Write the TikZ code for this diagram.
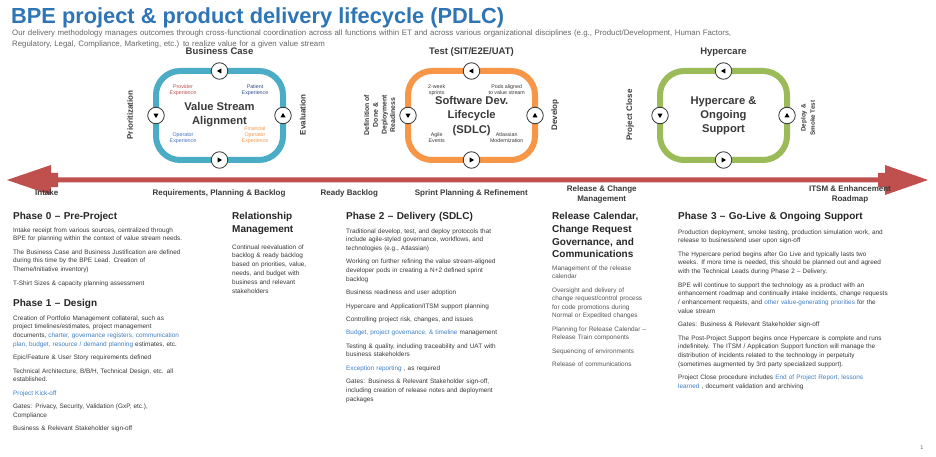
\documentclass[tikz,border=0pt]{standalone}
\usepackage{fontspec}
\setmainfont{Liberation Sans}
\definecolor{titleblue}{HTML}{2E75B6}
\definecolor{subg}{HTML}{666666}
\definecolor{txt}{HTML}{383838}
\definecolor{txtlight}{HTML}{555555}
\definecolor{headc}{HTML}{262626}
\definecolor{lblc}{HTML}{3A3A3A}
\definecolor{lnk}{HTML}{3F7FC4}
\definecolor{loopblue}{HTML}{4BACC6}
\definecolor{looporange}{HTML}{F79646}
\definecolor{loopgreen}{HTML}{9BBB59}
\definecolor{arrowred}{HTML}{C0504D}
\definecolor{patblue}{HTML}{2F4F8F}
\definecolor{opblue}{HTML}{4472C4}
\tikzset{
  loopbox/.style={rectangle, rounded corners=24pt, line width=6pt, minimum width=127pt, minimum height=89pt, inner sep=0pt, outer sep=0pt},
  circ/.style={circle, draw=black!80, fill=white, line width=0.8pt, minimum size=16.5pt, inner sep=0pt},
  tri/.style={fill=black},
  looplabel/.style={anchor=base, inner sep=0pt, font=\fontsize{9.5}{11}\selectfont\bfseries, text=lblc},
  sidelabel/.style={rotate=90, inner sep=0pt, align=center, font=\fontsize{8}{9}\selectfont\bfseries, text=lblc},
  centertext/.style={inner sep=0pt, align=center, font=\fontsize{11.2}{14.2}\selectfont\bfseries, text=lblc},
  tiny/.style={inner sep=0pt, align=center, font=\fontsize{5.3}{6.2}\selectfont},
  arrowlabel/.style={inner sep=0pt, align=center, font=\fontsize{8}{10}\selectfont\bfseries, text=lblc},
  head/.style={anchor=base west, inner sep=0pt, text width=#1, align=left, font=\fontsize{10}{12.7}\selectfont\bfseries, text=headc},
  body/.style={anchor=base west, inner sep=0pt, text width=#1, align=left, font=\fontsize{6.4}{8.8}\selectfont, text=txt},
}
\newcommand{\pg}{\\[4.5pt]}
\begin{document}
\begin{tikzpicture}[x=1pt,y=-1pt]
\path[use as bounding box] (0,0) rectangle (936,457);
\fill[white] (0,0) rectangle (936,457);

% title
\node[anchor=base west, inner sep=0pt, font=\fontsize{21.8}{26}\selectfont\bfseries, text=titleblue] (title) at (11,24) {BPE project \& product delivery lifecycle (PDLC)};
\node[anchor=base west, inner sep=0pt, text width=800pt, align=left, font=\fontsize{7.85}{11}\selectfont, text=subg] (subtitle) at (12,35.8) {Our delivery methodology manages outcomes through cross-functional coordination across all functions within ET and across various organizational disciplines (e.g., Product/Development, Human Factors,\\
Regulatory, Legal, Compliance, Marketing, etc.) to realize value for a given value stream};

% timeline arrow
\coordinate (aL) at (7,180);
\coordinate (aR) at (928,180);
\fill[arrowred] (aL) -- (51,165) -- (51,173) -- (58,173) -- (58,177.5) -- (878,177.5) -- (878,173) -- (885,173) -- (885,165) -- (aR) -- (885,195) -- (885,187) -- (878,187) -- (878,182.5) -- (58,182.5) -- (58,187) -- (51,187) -- (51,195) -- cycle;

% loops
\node[loopbox, draw=loopblue] (L1) at (219.5,115.5) {};
\node[loopbox, draw=looporange] (L2) at (471.5,115.5) {};
\node[loopbox, draw=loopgreen] (L3) at (723.5,115.5) {};

\foreach \L in {L1,L2,L3}{
  \node[circ] (\L t) at (\L.north) {};
  \node[circ] (\L b) at (\L.south) {};
  \node[circ] (\L l) at (\L.west) {};
  \node[circ] (\L r) at (\L.east) {};
  \fill[tri, shift={(\L t)}, rotate=180] (2.6,0) -- (-1.8,-2.5) -- (-1.8,2.5) -- cycle;
  \fill[tri, shift={(\L b)}, rotate=0] (2.6,0) -- (-1.8,-2.5) -- (-1.8,2.5) -- cycle;
  \fill[tri, shift={(\L l)}, rotate=-90] (2.6,0) -- (-1.8,-2.5) -- (-1.8,2.5) -- cycle;
  \fill[tri, shift={(\L r)}, rotate=90] (2.6,0) -- (-1.8,-2.5) -- (-1.8,2.5) -- cycle;
}

% loop titles
\node[looplabel] (bc) at (219.5,54.5) {Business Case};
\node[looplabel] (tst) at (471.5,54.5) {Test (SIT/E2E/UAT)};
\node[looplabel] (hc) at (723.5,54.5) {Hypercare};

% side labels
\node[sidelabel] (prio) at (130,115) {Prioritization};
\node[sidelabel] (eval) at (302.7,115) {Evaluation};
\node[sidelabel, font=\fontsize{6.9}{8.7}\selectfont\bfseries] (dod) at (379.7,115) {Definition of\\Done \&\\Deployment\\Readiness};
\node[sidelabel] (dev) at (555,115) {Develop};
\node[sidelabel] (pclose) at (630,115) {Project Close};
\node[sidelabel, font=\fontsize{6.3}{9.4}\selectfont\bfseries] (deploy) at (808,118) {Deploy \&\\Smoke Test};

% centre texts
\node[centertext] (c1) at (219.5,115) {Value Stream\\Alignment};
\node[centertext] (c2) at (471.7,116) {Software Dev.\\Lifecycle\\(SDLC)};
\node[centertext] (c3) at (723.5,116) {Hypercare \&\\Ongoing\\Support};

% small labels loop 1
\node[tiny, text=arrowred] (prov) at (183,90) {Provider\\Experience};
\node[tiny, text=patblue] (pat) at (255,90) {Patient\\Experience};
\node[tiny, text=opblue] (oper) at (183,138) {Operator\\Experience};
\node[tiny, text=looporange] (fin) at (255,135) {Financial\\Operator\\Experience};
% small labels loop 2
\node[tiny, text=txt] (sprint) at (436.7,90) {2-week\\sprints};
\node[tiny, text=txt] (pods) at (506.7,90) {Pods aligned\\to value stream};
\node[tiny, text=txt] (agile) at (436.7,138) {Agile\\Events};
\node[tiny, text=txt] (atl) at (506.7,138) {Atlassian\\Modernization};

% arrow labels
\node[arrowlabel, anchor=base] (intake) at (46.7,196) {Intake};
\node[arrowlabel, anchor=base] (req) at (219,196) {Requirements, Planning \& Backlog};
\node[arrowlabel, anchor=base] (ready) at (349.3,196) {Ready Backlog};
\node[arrowlabel, anchor=base] (sprp) at (471.3,196) {Sprint Planning \& Refinement};
\node[arrowlabel] (rel) at (601.7,194.3) {Release \& Change\\Management};
\node[arrowlabel] (itsm) at (850,194.3) {ITSM \& Enhancement\\Roadmap};

% column 1
\node[head=215pt] (h0) at (13,219.6) {Phase 0 – Pre-Project};
\node[body=215pt] (b0) at (13,232) {Intake receipt from various sources, centralized through\\
BPE for planning within the context of value stream needs.\pg
The Business Case and Business Justification are defined\\
during this time by the BPE Lead. Creation of\\
Theme/Initiative inventory)\pg
T-Shirt Sizes \& capacity planning assessment};
\node[head=215pt] (h1) at (13,306.6) {Phase 1 – Design};
\node[body=215pt] (b1) at (13,320) {Creation of Portfolio Management collateral, such as\\
project timelines/estimates, project management\\
documents, {\color{lnk}charter, governance registers, communication}\\
{\color{lnk}plan, budget, resource / demand planning} estimates, etc.\pg
Epic/Feature \& User Story requirements defined\pg
Technical Architecture, B/B/H, Technical Design, etc. all\\
established.\pg
{\color{lnk}Project Kick-off}\pg
Gates: Privacy, Security, Validation (GxP, etc.),\\
Compliance\pg
Business \& Relevant Stakeholder sign-off};

% column 2
\node[head=112pt] (hrm) at (232,219.6) {Relationship\\Management};
\node[body=112pt] (brm) at (232,249) {Continual reevaluation of\\
backlog \& ready backlog\\
based on priorities, value,\\
needs, and budget with\\
business and relevant\\
stakeholders};

% column 3
\node[head=210pt] (h2) at (346,219.6) {Phase 2 – Delivery (SDLC)};
\node[body=210pt] (b2) at (346,233) {Traditional develop, test, and deploy protocols that\\
include agile-styled governance, workflows, and\\
technologies (e.g., Atlassian)\pg
Working on further refining the value stream-aligned\\
developer pods in creating a N+2 defined sprint\\
backlog\pg
Business readiness and user adoption\pg
Hypercare and Application/ITSM support planning\pg
Controlling project risk, changes, and issues\pg
{\color{lnk}Budget, project governance, \& timeline} management\pg
Testing \& quality, including traceability and UAT with\\
business stakeholders\pg
{\color{lnk}Exception reporting} , as required\pg
Gates: Business \& Relevant Stakeholder sign-off,\\
including creation of release notes and deployment\\
packages};

% column 4
\node[head=124pt] (hrc) at (552,219.6) {Release Calendar,\\Change Request\\Governance, and\\Communications};
\node[body=124pt, text=txtlight, font=\fontsize{6.4}{8.5}\selectfont] (brc) at (552,270) {Management of the release\\
calendar\\[5pt]
Oversight and delivery of\\
change request/control process\\
for code promotions during\\
Normal or Expedited changes\\[5pt]
Planning for Release Calendar –\\
Release Train components\\[5pt]
Sequencing of environments\\[5pt]
Release of communications};

% column 5
\node[head=255pt] (h3) at (678,219.6) {Phase 3 – Go-Live \& Ongoing Support};
\node[body=255pt] (b3) at (678,234) {Production deployment, smoke testing, production simulation work, and\\
release to business/end user upon sign-off\pg
The Hypercare period begins after Go Live and typically lasts two\\
weeks. If more time is needed, this should be planned out and agreed\\
with the Technical Leads during Phase 2 – Delivery.\pg
BPE will continue to support the technology as a product with an\\
enhancement roadmap and continually intake incidents, change requests\\
/ enhancement requests, and {\color{lnk}other value-generating priorities} for the\\
value stream\pg
Gates: Business \& Relevant Stakeholder sign-off\pg
The Post-Project Support begins once Hypercare is complete and runs\\
indefinitely. The ITSM / Application Support function will manage the\\
distribution of incidents related to the technology in perpetuity\\
(sometimes augmented by 3rd party specialized support).\pg
Project Close procedure includes {\color{lnk}End of Project Report, lessons}\\
{\color{lnk}learned} , document validation and archiving};

% page number
\node[inner sep=0pt, font=\fontsize{5.5}{6}\selectfont, text=subg] (pnum) at (922,448) {1};
\end{tikzpicture}
\end{document}
